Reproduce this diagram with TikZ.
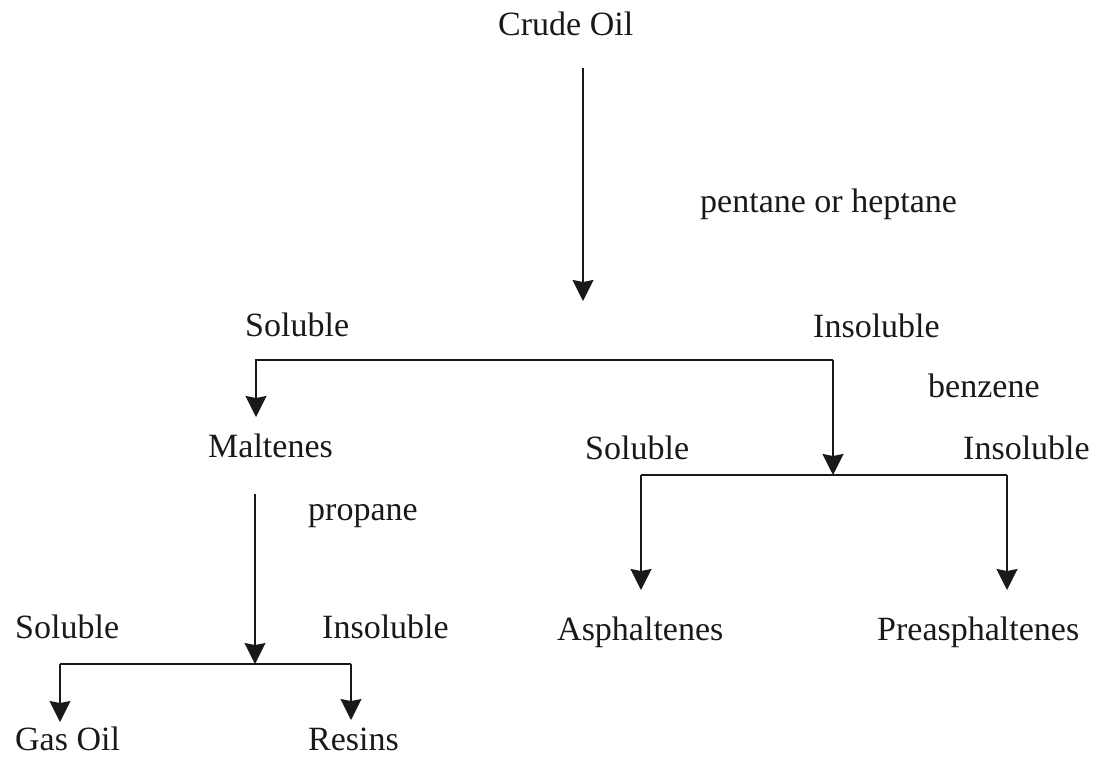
\documentclass[tikz,border=0pt]{standalone}
\usepackage{fontspec}
\setmainfont{Liberation Serif}
\usetikzlibrary{arrows.meta}
\begin{document}
\begin{tikzpicture}[x=1pt,y=-1pt,
  lbl/.style={inner sep=0pt,anchor=base west,font=\fontsize{34}{40}\selectfont,text=black!90},
  ln/.style={line width=1.8pt,black!90},
  arr/.style={ln,-{Stealth[width=21pt,length=21pt,inset=2pt]}}]
\useasboundingbox (0,0) rectangle (1099,766);
% labels
\node[lbl] (crude) at (498,35) {Crude Oil};
\node[lbl] (pent) at (700,212) {pentane or heptane};
\node[lbl] (sol1) at (245,336) {Soluble};
\node[lbl] (ins1) at (813,337) {Insoluble};
\node[lbl] (benz) at (928,397) {benzene};
\node[lbl] (malt) at (208,457) {Maltenes};
\node[lbl] (sol2) at (585,459) {Soluble};
\node[lbl] (ins2) at (963,459) {Insoluble};
\node[lbl] (prop) at (308,520) {propane};
\node[lbl] (asph) at (557,640) {Asphaltenes};
\node[lbl] (pre) at (877,640) {Preasphaltenes};
\node[lbl] (sol3) at (15,638) {Soluble};
\node[lbl] (ins3) at (322,638) {Insoluble};
\node[lbl] (gas) at (15,750) {Gas Oil};
\node[lbl] (res) at (308,750) {Resins};
% junction coordinates
\coordinate (a0) at (583,68);
\coordinate (a1) at (583,301);
\coordinate (b1) at (256,360);
\coordinate (b1t) at (256,417);
\coordinate (b2) at (833,360);
\coordinate (b2t) at (833,475);
\coordinate (c1) at (641,475);
\coordinate (c1t) at (641,590);
\coordinate (c2) at (1007,475);
\coordinate (c2t) at (1007,590);
\coordinate (m0) at (255,494);
\coordinate (m1) at (255,664);
\coordinate (d1) at (60,664);
\coordinate (d1t) at (60,722);
\coordinate (d2) at (351,664);
\coordinate (d2t) at (351,720);
% connectors
\draw[arr] (a0) -- (a1);
\draw[arr] (b2) -- (b1) -- (b1t);
\draw[arr] (b2) -- (b2t);
\draw[ln] (c1) -- (c2);
\draw[arr] (c1) -- (c1t);
\draw[arr] (c2) -- (c2t);
\draw[arr] (m0) -- (m1);
\draw[ln] (d1) -- (d2);
\draw[arr] (d1) -- (d1t);
\draw[arr] (d2) -- (d2t);
\end{tikzpicture}
\end{document}
